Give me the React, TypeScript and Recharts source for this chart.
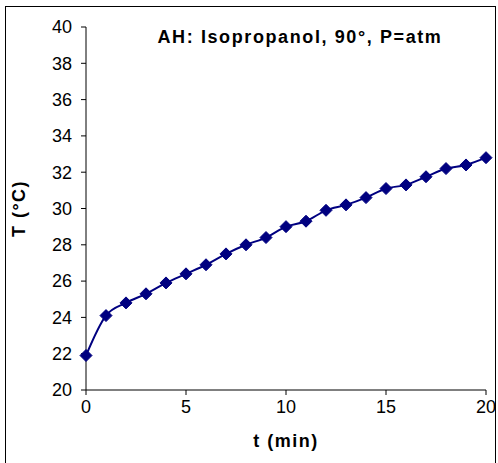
import { LineChart, Line, XAxis, YAxis, Label } from 'recharts'

const minutes = [0, 1, 2, 3, 4, 5, 6, 7, 8, 9, 10, 11, 12, 13, 14, 15, 16, 17, 18, 19, 20]
const temperatures = [
  21.9, 24.1, 24.8, 25.3, 25.9, 26.4, 26.9, 27.5, 28.0, 28.4, 29.0,
  29.3, 29.9, 30.2, 30.6, 31.1, 31.3, 31.75, 32.2, 32.4, 32.8,
]
const xTicks = [0, 5, 10, 15, 20]
const yTicks = [20, 22, 24, 26, 28, 30, 32, 34, 36, 38, 40]

const NAVY = '#000080'
const FONT = 'Arial, "Liberation Sans", sans-serif'

const data = minutes.map((t, i) => ({ t, T: temperatures[i] }))

// Excel-style diamond marker
function Diamond(props: any) {
  const { cx, cy } = props
  if (cx == null || cy == null) return null
  const r = 6
  return (
    <polygon
      points={`${cx},${cy - r} ${cx + r},${cy} ${cx},${cy + r} ${cx - r},${cy}`}
      fill={NAVY}
      stroke={NAVY}
    />
  )
}

export default function App() {
  return (
    <div style={{ position: 'absolute', left: 0, top: 0, width: 498, height: 463, background: '#fff' }}>
      <div
        style={{
          position: 'absolute',
          left: 5,
          top: 6,
          width: 491,
          height: 462,
          border: '1px solid #000',
          boxSizing: 'border-box',
        }}
      />
      <LineChart
        width={498}
        height={463}
        data={data}
        margin={{ top: 27, right: 12, bottom: 13, left: 36 }}
        style={{ position: 'absolute', left: 0, top: 0, fontFamily: FONT }}
      >
        <text
          x={300}
          y={43}
          textAnchor="middle"
          fontSize={18}
          fontWeight="bold"
          letterSpacing={1.6}
          fontFamily={FONT}
          fill="#000"
        >
          AH: Isopropanol, 90°, P=atm
        </text>
        <XAxis
          dataKey="t"
          type="number"
          domain={[0, 20]}
          ticks={xTicks}
          height={60}
          tickSize={5}
          tickMargin={5}
          stroke="#000"
          tick={{ fill: '#000', fontSize: 18, fontFamily: FONT }}
          axisLine={{ stroke: '#000' }}
        >
          <Label
            value="t (min)"
            position="insideBottom"
            offset={3}
            style={{ fontSize: 18, fontWeight: 'bold', fill: '#000', fontFamily: FONT, letterSpacing: 1.5 }}
          />
        </XAxis>
        <YAxis
          type="number"
          domain={[20, 40]}
          ticks={yTicks}
          interval={0}
          width={50}
          tickSize={5}
          tickMargin={9}
          stroke="#000"
          tick={{ fill: '#000', fontSize: 18, fontFamily: FONT }}
          axisLine={{ stroke: '#000' }}
        >
          <Label
            value="T (°C)"
            angle={-90}
            position="insideLeft"
            offset={-17}
            style={{
              fontSize: 18,
              fontWeight: 'bold',
              fill: '#000',
              fontFamily: FONT,
              textAnchor: 'middle',
              letterSpacing: 1.5,
            }}
          />
        </YAxis>
        <Line
          dataKey="T"
          type="monotone"
          stroke={NAVY}
          strokeWidth={2}
          dot={<Diamond />}
          activeDot={false}
          isAnimationActive={false}
        />
      </LineChart>
    </div>
  )
}
